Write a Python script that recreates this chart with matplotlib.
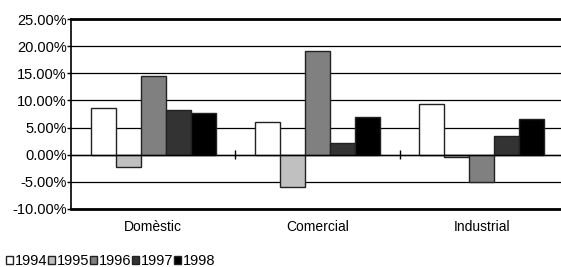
import numpy as np
import matplotlib.pyplot as plt
from matplotlib.ticker import FuncFormatter

categories = ['Domèstic', 'Comercial', 'Industrial']
years = ['1994', '1995', '1996', '1997', '1998']
values = {
    '1994': [8.6, 6.1, 9.4],
    '1995': [-2.3, -6.0, -0.4],
    '1996': [14.5, 19.1, -5.0],
    '1997': [8.3, 2.1, 3.5],
    '1998': [7.6, 7.0, 6.5],
}
colors = ['#ffffff', '#c0c0c0', '#808080', '#333333', '#000000']
yticks = [-10, -5, 0, 5, 10, 15, 20, 25]

plt.rcParams['font.family'] = ['Liberation Sans', 'DejaVu Sans']

fig = plt.figure(figsize=(5.61, 2.67), dpi=100)
ax = fig.add_axes([71 / 561, 58.3 / 267, 493 / 561, 189.4 / 267])

x = np.arange(len(categories))
w = 0.152
for i, yr in enumerate(years):
    ax.bar(x + (i - 2) * w, values[yr], width=w, color=colors[i],
           edgecolor='#222222', linewidth=1.0, label=yr, zorder=3)

ax.set_xlim(-0.5, len(categories) - 0.5)
ax.set_ylim(-10, 25)
ax.set_yticks(yticks)
ax.yaxis.set_major_formatter(FuncFormatter(lambda v, p: '%.2f%%' % v))
ax.grid(axis='y', color='black', linewidth=0.9, zorder=0)
ax.axhline(0, color='black', linewidth=1.0, zorder=4)
# category separator ticks on the zero line
ax.vlines(x[:-1] + 0.5, -0.8, 0.8, color='black', linewidth=1.0, zorder=4)

ax.set_xticks(x)
ax.set_xticklabels(categories, fontsize=10)
ax.tick_params(axis='x', length=0, pad=8)
ax.tick_params(axis='y', length=3, width=1, pad=0, labelsize=10.5)

for s in ['top', 'bottom']:
    ax.spines[s].set_linewidth(2)
ax.spines['left'].set_linewidth(1.2)
ax.spines['right'].set_visible(False)

fig.legend(loc='lower left', bbox_to_anchor=(0.0, -0.025), ncol=5, frameon=False,
           handlelength=0.5, handleheight=0.5, handletextpad=0.15,
           columnspacing=0.0, borderaxespad=0.0, fontsize=10.5)

fig.savefig('out.png', dpi=100)
